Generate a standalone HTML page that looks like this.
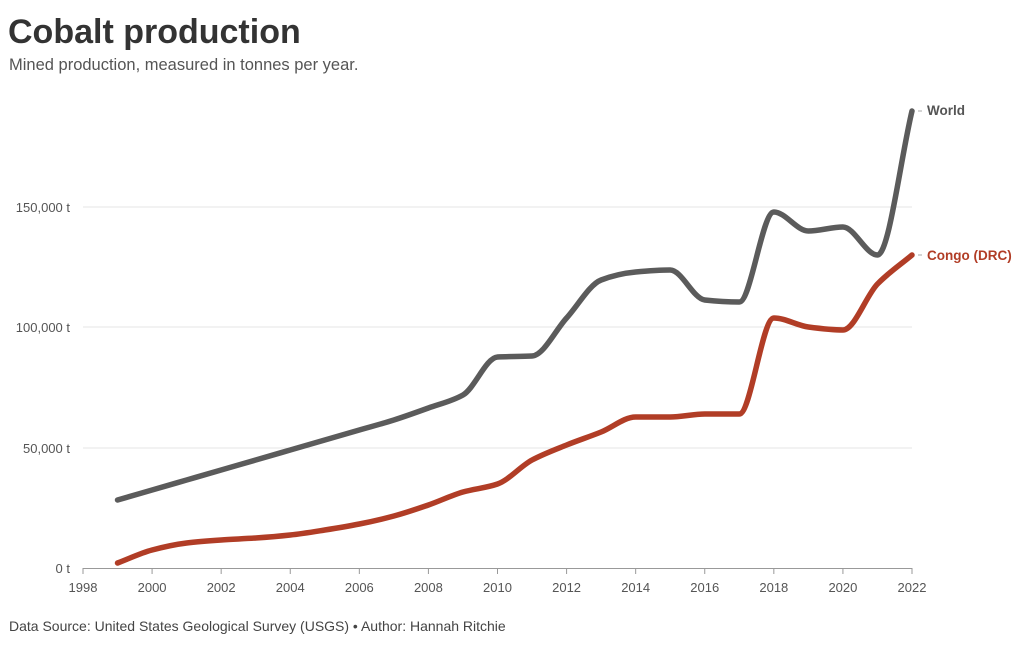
<!DOCTYPE html>
<html><head><meta charset="utf-8"><style>
body{margin:0;background:#fff;width:1024px;height:642px;overflow:hidden;font-family:"Liberation Sans",sans-serif}
</style></head><body>
<svg width="1024" height="642" xmlns="http://www.w3.org/2000/svg">
<text x="8" y="43" font-size="34" font-weight="bold" fill="#333" font-family="Liberation Sans">Cobalt production</text>
<text x="9" y="70" font-size="16.5" fill="#555" font-family="Liberation Sans">Mined production, measured in tonnes per year.</text>
<g stroke="#e6e6e6" stroke-width="1">
<line x1="83" x2="912" y1="207" y2="207"/><line x1="83" x2="912" y1="327" y2="327"/><line x1="83" x2="912" y1="448" y2="448"/>
</g>
<line x1="83" x2="912" y1="568.5" y2="568.5" stroke="#999"/>
<g font-size="13" fill="#555" text-anchor="end" font-family="Liberation Sans">
<text x="70" y="212">150,000 t</text><text x="70" y="332">100,000 t</text><text x="70" y="453">50,000 t</text><text x="70" y="573">0 t</text>
</g>
<g id="xt" font-size="13" fill="#555" text-anchor="middle" font-family="Liberation Sans"></g>
<path id="w" fill="none" stroke="#5b5b5b" stroke-width="5.5" stroke-linecap="round"/>
<path id="c" fill="none" stroke="#b13d26" stroke-width="5.5" stroke-linecap="round"/>
<text x="927" y="115" font-size="13.5" font-weight="bold" fill="#555" font-family="Liberation Sans">World</text>
<text x="927" y="260" font-size="13.5" font-weight="bold" fill="#b13d26" font-family="Liberation Sans">Congo (DRC)</text>
<line x1="918" x2="922" y1="111" y2="111" stroke="#aaa"/><line x1="918" x2="922" y1="255" y2="255" stroke="#aaa"/>
<text x="9" y="631" font-size="14" fill="#444" font-family="Liberation Sans">Data Source: United States Geological Survey (USGS) • Author: Hannah Ritchie</text>
</svg>
<script>
var X=function(y){return 83+(y-1998)*829/24};
var g=document.getElementById('xt'),s='';
for(var y=1998;y<=2022;y+=2){var x=X(y);s+='<line x1="'+x+'" x2="'+x+'" y1="568" y2="574" stroke="#999"/><text x="'+x+'" y="592">'+y+'</text>';}
g.innerHTML=s;
var W=[[1999,500],[2000,490],[2001,480],[2002,470],[2003,460],[2004,450],[2005,440],[2006,430],[2007,420],[2008,408],[2009,395],[2010,357],[2011,356],[2012,318],[2013,280],[2014,272],[2015,270],[2016,300],[2017,302],[2018,212],[2019,231],[2020,227],[2021,255],[2022,111]];
var C=[[1999,563],[2000,550],[2001,543],[2002,540],[2003,538],[2004,535],[2005,530],[2006,524],[2007,516],[2008,505],[2009,492],[2010,484],[2011,460],[2012,445],[2013,432],[2014,417],[2015,417],[2016,414],[2017,414],[2018,318],[2019,327],[2020,330],[2021,284],[2022,255]];
function path(d){var p=d.map(function(a){return[X(a[0]),a[1]]}),n=p.length,h=p[1][0]-p[0][0];
var del=[],m=[];for(var i=0;i<n-1;i++)del.push((p[i+1][1]-p[i][1])/h);
m[0]=del[0];m[n-1]=del[n-2];
for(var i=1;i<n-1;i++){if(del[i-1]*del[i]<=0)m[i]=0;else m[i]=2/(1/del[i-1]+1/del[i]);}
var s='M'+p[0][0]+','+p[0][1];
for(var i=0;i<n-1;i++){s+='C'+(p[i][0]+h/3)+','+(p[i][1]+m[i]*h/3)+' '+(p[i+1][0]-h/3)+','+(p[i+1][1]-m[i+1]*h/3)+' '+p[i+1][0]+','+p[i+1][1];}
return s;}
document.getElementById('w').setAttribute('d',path(W));
document.getElementById('c').setAttribute('d',path(C));
</script>
</body></html>
